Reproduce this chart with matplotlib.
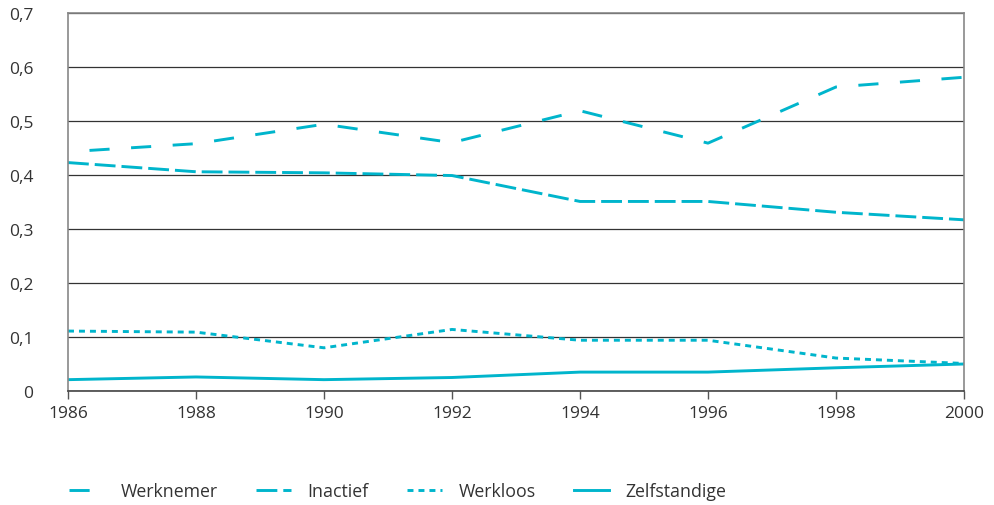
import matplotlib
matplotlib.use("Agg")
import matplotlib.pyplot as plt
from matplotlib.lines import Line2D
from matplotlib.ticker import FuncFormatter

plt.rcParams['font.family'] = ['Open Sans', 'DejaVu Sans']
plt.rcParams['lines.scale_dashes'] = False

years = [1986, 1988, 1990, 1992, 1994, 1996, 1998, 2000]
werknemer = [0.443, 0.458, 0.494, 0.460, 0.519, 0.459, 0.563, 0.581]
inactief = [0.423, 0.406, 0.404, 0.399, 0.351, 0.351, 0.331, 0.317]
werkloos = [0.111, 0.109, 0.080, 0.114, 0.094, 0.094, 0.061, 0.051]
zelfstandige = [0.021, 0.026, 0.021, 0.025, 0.035, 0.035, 0.043, 0.050]
labels = ['Werknemer', 'Inactief', 'Werkloos', 'Zelfstandige']

cyan = '#00b5cc'
text_col = '#333333'
lw = 2.1
styles = [(0, (14.5, 15.5)), (0, (15, 4.3)), (0, (4.3, 3.6)), '-']

fig = plt.figure(figsize=(9.94, 5.06), dpi=100)
ax = fig.add_axes([68 / 994, 1 - 392 / 506, 896 / 994, 378 / 506])

# first series begins with a gap in the original
ax.plot(years, werknemer, color=cyan, lw=lw, linestyle=(14.5, (14.5, 15.5)))
ax.plot(years, inactief, color=cyan, lw=lw, linestyle=styles[1])
ax.plot(years, werkloos, color=cyan, lw=lw, linestyle=styles[2])
ax.plot(years, zelfstandige, color=cyan, lw=lw, linestyle=styles[3])

ax.set_xlim(1986, 2000)
ax.set_ylim(0, 0.7)
ax.set_xticks(years)
ax.set_yticks([0, 0.1, 0.2, 0.3, 0.4, 0.5, 0.6, 0.7])
ax.yaxis.set_major_formatter(FuncFormatter(lambda v, p: '0' if v == 0 else f'{v:.1f}'.replace('.', ',')))

ax.grid(axis='y', color='#333333', lw=0.9)
ax.set_axisbelow(True)
for side in ['left', 'right', 'top']:
    ax.spines[side].set_color('#888888')
    ax.spines[side].set_linewidth(1.2)
ax.spines['bottom'].set_color('#444444')
ax.spines['bottom'].set_linewidth(1.2)

ax.tick_params(axis='x', direction='out', length=6, width=1, color='#555555',
               pad=4, labelsize=12.5, labelcolor=text_col)
ax.tick_params(axis='y', length=0, pad=25, labelsize=12.5, labelcolor=text_col)

handles = [Line2D([], [], color=cyan, lw=lw, linestyle=s) for s in styles]
fig.legend(handles, labels, loc='center left', bbox_to_anchor=(69 / 994, 1 - 492 / 506), ncol=4,
           frameon=False, fontsize=12.8, labelcolor=text_col, borderpad=0,
           borderaxespad=0, handlelength=2.0, handletextpad=0.9, columnspacing=2.15)

fig.savefig('out.png', dpi=100)
